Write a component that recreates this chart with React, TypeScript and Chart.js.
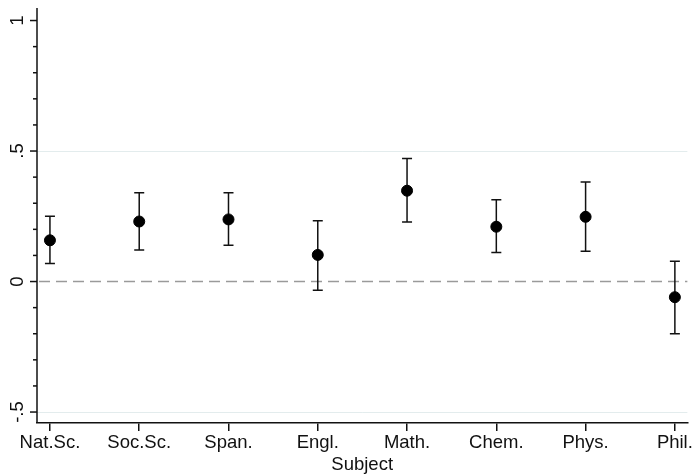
import React, { useEffect, useRef } from "react";
import { Chart, registerables } from "chart.js";

Chart.register(...registerables);

const subjects = ["Nat.Sc.", "Soc.Sc.", "Span.", "Engl.", "Math.", "Chem.", "Phys.", "Phil."];
const estimates = [0.158, 0.23, 0.238, 0.102, 0.348, 0.21, 0.248, -0.06];
const lowerCI = [0.069, 0.121, 0.139, -0.033, 0.228, 0.111, 0.116, -0.2];
const upperCI = [0.25, 0.34, 0.34, 0.233, 0.471, 0.313, 0.381, 0.078];

const yMajorTicks = [-0.5, 0, 0.5, 1];
const yMajorLabels = ["-.5", "0", ".5", "1"];
const yMinorTicks = [-0.4, -0.3, -0.2, -0.1, 0.1, 0.2, 0.3, 0.4, 0.6, 0.7, 0.8, 0.9];
const yGridValues = [-0.5, 0.5];
const referenceLine = 0;
const xTitle = "Subject";

const FONT = "'Liberation Sans', Arial, Helvetica, sans-serif";
const FONT_SIZE = 18.5;

const stataPlugin = {
  id: "stataAxes",
  beforeDatasetsDraw(chart: any) {
    const { ctx, chartArea, scales } = chart;
    const x = scales.x;
    const y = scales.y;
    ctx.save();
    ctx.strokeStyle = "#e3eced";
    ctx.lineWidth = 1;
    yGridValues.forEach((v) => {
      const py = Math.round(y.getPixelForValue(v)) + 0.5;
      ctx.beginPath();
      ctx.moveTo(chartArea.left, py);
      ctx.lineTo(chartArea.right, py);
      ctx.stroke();
    });
    ctx.strokeStyle = "#9a9a9a";
    ctx.lineWidth = 1.5;
    ctx.setLineDash([11, 6]);
    const pz = y.getPixelForValue(referenceLine);
    ctx.beginPath();
    ctx.moveTo(chartArea.left + 2, pz);
    ctx.lineTo(chartArea.right, pz);
    ctx.stroke();
    ctx.setLineDash([]);
    ctx.strokeStyle = "#111";
    ctx.lineWidth = 1.5;
    const cap = 5;
    subjects.forEach((_, i) => {
      const px = x.getPixelForValue(i);
      const pl = y.getPixelForValue(lowerCI[i]);
      const pu = y.getPixelForValue(upperCI[i]);
      ctx.beginPath();
      ctx.moveTo(px, pl);
      ctx.lineTo(px, pu);
      ctx.moveTo(px - cap, pl);
      ctx.lineTo(px + cap, pl);
      ctx.moveTo(px - cap, pu);
      ctx.lineTo(px + cap, pu);
      ctx.stroke();
    });
    ctx.restore();
  },
  afterDraw(chart: any) {
    const { ctx, chartArea, scales } = chart;
    const y = scales.y;
    const left = chartArea.left;
    ctx.save();
    ctx.strokeStyle = "#111";
    ctx.lineWidth = 1.5;
    ctx.beginPath();
    ctx.moveTo(left, chartArea.top);
    ctx.lineTo(left, chartArea.bottom);
    ctx.stroke();
    yMajorTicks.forEach((v) => {
      const py = y.getPixelForValue(v);
      ctx.beginPath();
      ctx.moveTo(left - 7, py);
      ctx.lineTo(left, py);
      ctx.stroke();
    });
    yMinorTicks.forEach((v) => {
      const py = y.getPixelForValue(v);
      ctx.beginPath();
      ctx.moveTo(left - 4, py);
      ctx.lineTo(left, py);
      ctx.stroke();
    });
    ctx.fillStyle = "#111";
    ctx.font = `${FONT_SIZE}px ${FONT}`;
    ctx.textAlign = "center";
    ctx.textBaseline = "alphabetic";
    yMajorTicks.forEach((v, i) => {
      const py = y.getPixelForValue(v);
      ctx.save();
      ctx.translate(23, py);
      ctx.rotate(-Math.PI / 2);
      ctx.fillText(yMajorLabels[i], 0, 0);
      ctx.restore();
    });
    ctx.restore();
  },
};

export default function App() {
  const ref = useRef<HTMLCanvasElement | null>(null);
  useEffect(() => {
    if (!ref.current) return;
    const chart = new Chart(ref.current, {
      type: "scatter",
      data: {
        datasets: [
          {
            data: estimates.map((v, i) => ({ x: i, y: v })),
            backgroundColor: "#000",
            borderColor: "#000",
            pointRadius: 5.5,
            pointHoverRadius: 5.5,
            showLine: false,
          },
        ],
      },
      options: {
        animation: false,
        responsive: true,
        maintainAspectRatio: false,
        layout: { padding: { left: 37, right: 7, top: 8, bottom: 0 } },
        plugins: { legend: { display: false }, tooltip: { enabled: false } },
        scales: {
          x: {
            type: "linear",
            min: -0.145,
            max: 7.14,
            afterBuildTicks: (axis: any) => {
              axis.ticks = subjects.map((_, i) => ({ value: i }));
            },
            ticks: {
              autoSkip: false,
              maxRotation: 0,
              minRotation: 0,
              padding: 3,
              color: "#111",
              font: { family: FONT, size: FONT_SIZE, lineHeight: 1 },
              callback: (v: any) => subjects[Math.round(Number(v))] ?? "",
            },
            grid: {
              drawOnChartArea: false,
              drawTicks: true,
              tickLength: 8,
              color: "#111",
              lineWidth: 1.5,
            },
            border: { display: true, color: "#111", width: 1.5 },
            title: {
              display: true,
              text: xTitle,
              color: "#111",
              font: { family: FONT, size: FONT_SIZE, lineHeight: 1 },
              padding: { top: 0, bottom: 0 },
            },
          },
          y: {
            type: "linear",
            display: false,
            min: -0.542,
            max: 1.048,
          },
        },
      },
      plugins: [stataPlugin],
    });
    return () => chart.destroy();
  }, []);
  return (
    <div style={{ position: "absolute", left: 0, top: 0, width: 696, height: 474, background: "#fff" }}>
      <canvas ref={ref} />
    </div>
  );
}
